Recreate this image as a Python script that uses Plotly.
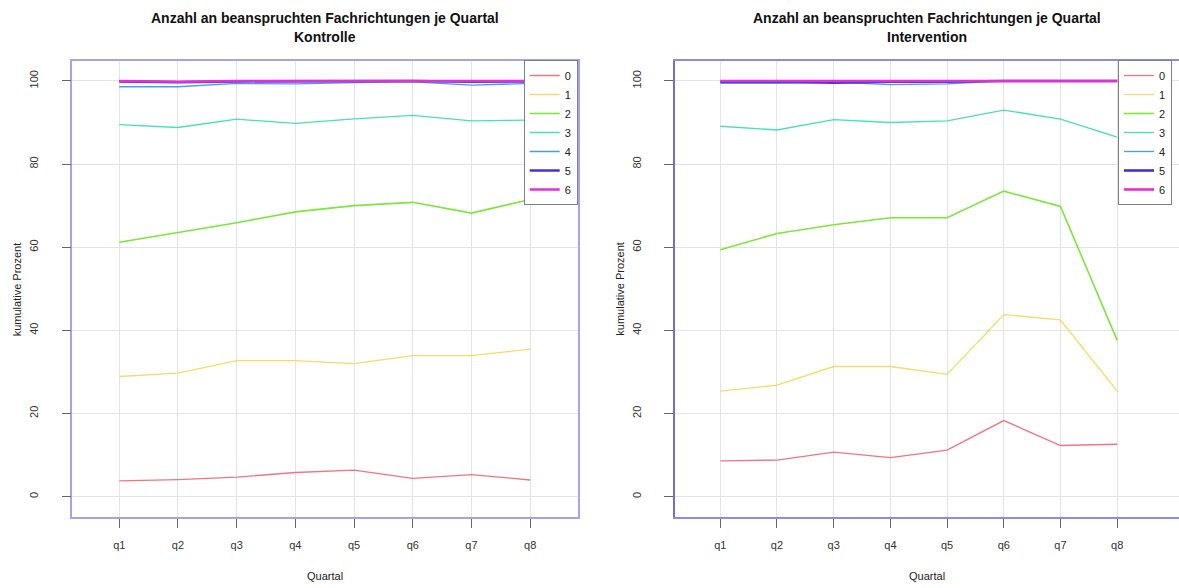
import plotly.graph_objects as go

# Quarters on the x axis
quarters = ["q1", "q2", "q3", "q4", "q5", "q6", "q7", "q8"]
x_pos = [1, 2, 3, 4, 5, 6, 7, 8]

# Number of specialties (legend labels)
groups = ["0", "1", "2", "3", "4", "5", "6"]

# Cumulative percentages, control group
kontrolle_0 = [3.8, 4.1, 4.7, 5.8, 6.4, 4.4, 5.3, 4.0]
kontrolle_1 = [28.9, 29.7, 32.7, 32.7, 32.0, 33.9, 33.9, 35.5]
kontrolle_2 = [61.2, 63.6, 65.9, 68.5, 70.0, 70.8, 68.2, 71.5]
kontrolle_3 = [89.5, 88.8, 90.8, 89.8, 90.9, 91.7, 90.4, 90.6]
kontrolle_4 = [98.6, 98.6, 99.4, 99.3, 99.6, 99.8, 99.0, 99.4]
kontrolle_5 = [99.9, 99.7, 99.9, 99.9, 100.0, 100.0, 99.8, 99.9]
kontrolle_6 = [100.0, 99.8, 100.0, 100.0, 100.0, 100.0, 100.0, 100.0]

# Cumulative percentages, intervention group
intervention_0 = [8.6, 8.8, 10.7, 9.4, 11.2, 18.3, 12.3, 12.6]
intervention_1 = [25.4, 26.8, 31.3, 31.3, 29.4, 43.8, 42.5, 25.4]
intervention_2 = [59.4, 63.3, 65.4, 67.1, 67.1, 73.5, 69.8, 37.6]
intervention_3 = [89.1, 88.2, 90.7, 90.0, 90.4, 93.0, 90.8, 86.5]
intervention_4 = [99.4, 99.4, 99.7, 99.1, 99.3, 100.0, 100.0, 100.0]
intervention_5 = [99.8, 99.8, 99.6, 99.8, 99.8, 100.0, 100.0, 100.0]
intervention_6 = [100.0, 100.0, 100.0, 100.0, 100.0, 100.0, 100.0, 100.0]

y_ticks = [0, 20, 40, 60, 80, 100]

kontrolle = [kontrolle_0, kontrolle_1, kontrolle_2, kontrolle_3,
             kontrolle_4, kontrolle_5, kontrolle_6]
intervention = [intervention_0, intervention_1, intervention_2, intervention_3,
                intervention_4, intervention_5, intervention_6]

colors = ["#F2757F", "#F5DC66", "#7EE63C", "#46E2B4", "#3FA0F0", "#4B2CD9", "#E030D8"]
widths = [1.3, 1.3, 1.6, 1.3, 1.3, 2.6, 2.6]

W, H = 1179, 588
FONT = "Liberation Sans, Arial, Helvetica, sans-serif"

fig = go.Figure()

for i, g in enumerate(groups):
    fig.add_trace(go.Scatter(
        x=x_pos, y=kontrolle[i], mode="lines", name=g,
        line=dict(color=colors[i], width=widths[i]),
        xaxis="x", yaxis="y", legend="legend",
    ))
for i, g in enumerate(groups):
    fig.add_trace(go.Scatter(
        x=x_pos, y=intervention[i], mode="lines", name=g,
        line=dict(color=colors[i], width=widths[i]),
        xaxis="x2", yaxis="y2", legend="legend2",
    ))

# panel geometry in pixels
left_px = (72.3, 577.7)
right_px = (674.7, 1179.0)
top_px, bottom_px = 61.0, 517.0


def xdom(px):
    return [px[0] / W, px[1] / W]


ydom = [1 - bottom_px / H, 1 - top_px / H]

common_x = dict(
    tickvals=x_pos, ticktext=quarters,
    showgrid=True, gridcolor="#E4E4E4", gridwidth=1,
    zeroline=False, ticks="outside", ticklen=9, tickcolor="#666666",
    tickfont=dict(family=FONT, size=11, color="#333333"),
    ticklabelstandoff=8,
    showline=True, mirror=True,
)
common_y = dict(
    tickvals=y_ticks, range=[-4.9, 104.8],
    showgrid=True, gridcolor="#E4E4E4", gridwidth=1,
    zeroline=False, ticks="outside", ticklen=9, tickcolor="#666666",
    tickfont=dict(family=FONT, size=11, color="#333333"),
    tickangle=-90, ticklabelstandoff=19,
    showline=True,
)

legend_common = dict(
    bgcolor="white", bordercolor="#808080", borderwidth=1,
    font=dict(family=FONT, size=11, color="#222222"),
    tracegroupgap=0, itemwidth=30,
)

fig.update_layout(
    width=W, height=H,
    margin=dict(l=0, r=0, t=0, b=0),
    paper_bgcolor="white", plot_bgcolor="white",
    font=dict(family=FONT, color="#222222"),
    xaxis=dict(domain=xdom(left_px), range=[0.2, 8.81], anchor="y",
               linecolor="#A4A4E8", linewidth=1.5, **common_x),
    yaxis=dict(domain=ydom, anchor="x", mirror=True,
               linecolor="#A4A4E8", linewidth=1.5, **common_y),
    xaxis2=dict(domain=xdom(right_px), range=[0.196, 9.09], anchor="y2",
                linecolor="#8C8CE0", linewidth=1.5, **common_x),
    # the right-hand panel runs off the page edge, so no right border line
    yaxis2=dict(domain=ydom, anchor="x2", mirror=False,
                linecolor="#6E6EDC", linewidth=1.5, **common_y),
    legend=dict(x=577.7 / W, xanchor="right", y=1 - 60 / H, yanchor="top",
                **legend_common),
    legend2=dict(x=1118 / W, xanchor="left", y=1 - 60 / H, yanchor="top",
                 **legend_common),
)

title_line1 = "Anzahl an beanspruchten Fachrichtungen je Quartal"
panels = [("Kontrolle", left_px), ("Intervention", right_px)]
for name, px in panels:
    cx = (px[0] + px[1]) / 2 / W
    fig.add_annotation(text="<b>" + title_line1 + "</b>", x=cx, y=1 - 18 / H,
                       xref="paper", yref="paper", showarrow=False,
                       xanchor="center", yanchor="middle",
                       font=dict(family=FONT, size=14, color="#111111"))
    fig.add_annotation(text="<b>" + name + "</b>", x=cx, y=1 - 37 / H,
                       xref="paper", yref="paper", showarrow=False,
                       xanchor="center", yanchor="middle",
                       font=dict(family=FONT, size=14, color="#111111"))
    fig.add_annotation(text="Quartal", x=cx, y=1 - 576 / H,
                       xref="paper", yref="paper", showarrow=False,
                       xanchor="center", yanchor="middle",
                       font=dict(family=FONT, size=11, color="#222222"))
    fig.add_annotation(text="kumulative Prozent", x=(px[0] - 55) / W, y=1 - 289 / H,
                       xref="paper", yref="paper", showarrow=False, textangle=-90,
                       xanchor="center", yanchor="middle",
                       font=dict(family=FONT, size=11, color="#222222"))

fig.write_html("out.html")
